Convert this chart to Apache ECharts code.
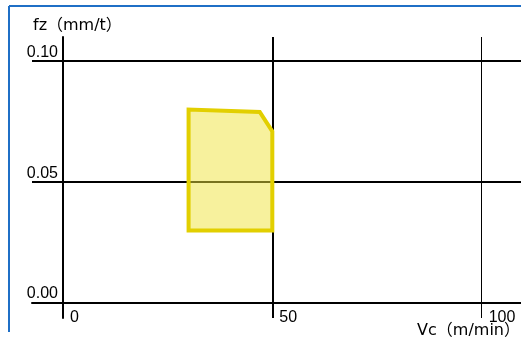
<!DOCTYPE html>
<html>
<head>
<meta charset="utf-8">
<script src="https://cdn.jsdelivr.net/npm/echarts@6/dist/echarts.min.js"></script>
<style>
  html, body { margin: 0; padding: 0; background: #fff; }
  #chart { width: 521px; height: 345px; }
</style>
</head>
<body>
<div id="chart"></div>
<script>
// 切削条件の範囲（Vc, fz）
var regionVc = [30, 30, 47, 50, 50];
var regionFz = [0.03, 0.08, 0.079, 0.071, 0.03];
var vcTicks = [0, 50, 100];
var fzTicks = [0, 0.05, 0.10];
var vcName = 'Vc（m/min）';
var fzName = 'fz（mm/t）';

var chart = echarts.init(document.getElementById('chart'));

var polygon = [];
for (var i = 0; i < regionVc.length; i++) {
    polygon.push([regionVc[i], regionFz[i]]);
}

var numFont = '"Liberation Sans", Arial, sans-serif';
var jpFont = '"DejaVu Sans", "Noto Sans CJK JP", sans-serif';

var option = {
    animation: false,
    grid: { left: 32, right: 0, top: 37, bottom: 27, containLabel: false, outerBoundsMode: 'none' },
    xAxis: {
        type: 'value',
        min: -7.4,
        max: 109.4,
        axisLine: { show: true, onZero: true, lineStyle: { color: '#000', width: 2 } },
        axisTick: { show: false },
        splitLine: { show: false },
        axisLabel: {
            customValues: vcTicks,
            align: 'left',
            verticalAlign: 'top',
            padding: [0, 0, 0, 7],
            margin: -8,
            color: '#000',
            fontSize: 16,
            fontFamily: numFont
        }
    },
    yAxis: {
        type: 'value',
        min: -0.0062,
        max: 0.11,
        axisLine: { show: true, onZero: true, lineStyle: { color: '#000', width: 2 } },
        axisTick: { show: false },
        splitLine: { show: false },
        axisLabel: {
            customValues: fzTicks,
            formatter: function (v) { return v.toFixed(2); },
            verticalAlign: 'bottom',
            padding: [0, 0, 1, 0],
            margin: -26,
            color: '#000',
            fontSize: 16,
            fontFamily: numFont
        }
    },
    graphic: [
        { type: 'line', shape: { x1: 9, y1: 6, x2: 521, y2: 6 }, style: { stroke: '#1f6fc6', lineWidth: 2 }, z: 10 },
        { type: 'line', shape: { x1: 9, y1: 6, x2: 9, y2: 332 }, style: { stroke: '#1f6fc6', lineWidth: 2 }, z: 10 },
        { type: 'text', left: 33, top: 18, style: { text: fzName, font: '16px ' + jpFont, fill: '#000' } },
        { type: 'text', right: 1, top: 323, style: { text: vcName, font: '16px ' + jpFont, fill: '#000' } }
    ],
    series: [{
        type: 'line',
        data: polygon,
        symbol: 'none',
        silent: true,
        z: 1,
        lineStyle: { width: 0 },
        markLine: {
            silent: true,
            symbol: 'none',
            z: 1,
            label: { show: false },
            data: [
                { yAxis: 0.05, lineStyle: { color: '#000', width: 2, type: 'solid' } },
                { yAxis: 0.10, lineStyle: { color: '#000', width: 2, type: 'solid' } },
                { xAxis: 50, lineStyle: { color: '#000', width: 2, type: 'solid' } },
                { xAxis: 100, lineStyle: { color: '#000', width: 1, type: 'solid' } }
            ]
        }
    }, {
        type: 'custom',
        silent: true,
        z: 5,
        renderItem: function (params, api) {
            var pts = [];
            for (var k = 0; k < regionVc.length; k++) {
                pts.push(api.coord([regionVc[k], regionFz[k]]));
            }
            return {
                type: 'polygon',
                shape: { points: pts },
                style: { fill: 'rgba(240, 228, 60, 0.5)', stroke: '#e2cf00', lineWidth: 4, lineJoin: 'miter' }
            };
        },
        data: [0]
    }]
};

chart.setOption(option);
</script>
</body>
</html>
